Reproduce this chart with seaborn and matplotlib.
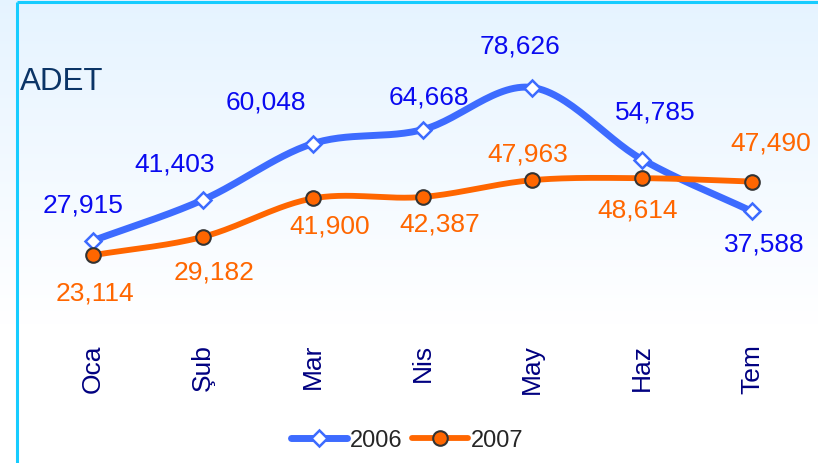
import numpy as np
import pandas as pd
import matplotlib
matplotlib.use("Agg")
import matplotlib.pyplot as plt
from matplotlib.lines import Line2D
import seaborn as sns

# ---- data ----
months = ["Oca", "Şub", "Mar", "Nis", "May", "Haz", "Tem"]
values_2006 = [27915, 41403, 60048, 64668, 78626, 54785, 37588]
values_2007 = [23114, 29182, 41900, 42387, 47963, 48614, 47490]
series_names = ["2006", "2007"]
unit_label = "ADET"

# label offsets (pixels, dx, dy up)
off_2006 = [(-10, 36), (-28, 36), (-47, 42), (6, 33), (-12, 42), (13, 48), (12, -32)]
off_2007 = [(2, -37), (11, -35), (17, -27), (17, -27), (-5, 27), (-5, -31), (19, 39)]

sns.set_theme(style="white")
plt.rcParams["font.family"] = ["Liberation Sans", "DejaVu Sans"]

W, H = 818, 464
fig = plt.figure(figsize=(W / 100, H / 100), dpi=100)

# background gradient
bg = fig.add_axes([0, 0, 1, 1], zorder=-10)
grad = np.linspace(0, 1, 256).reshape(-1, 1)
top = np.array([0.90, 0.955, 1.0])
bottom = np.array([1.0, 1.0, 1.0])
t = np.clip(grad / 0.7, 0, 1)
img = top[None, None, :] * (1 - t[..., None]) + bottom[None, None, :] * t[..., None]
bg.imshow(img, aspect="auto", extent=[0, 1, 0, 1], origin="upper")
bg.set_xlim(0, 1)
bg.set_ylim(0, 1)
bg.axis("off")
# frame lines (left and top)
bg.plot([16.5 / W, 16.5 / W], [0, 1 - 2.5 / H], color="#16ccff", lw=2.2, solid_capstyle="butt")
bg.plot([16.5 / W, 1], [1 - 2.5 / H, 1 - 2.5 / H], color="#16ccff", lw=2.2, solid_capstyle="butt")

ax = fig.add_axes([38 / W, (H - 326) / H, 769 / W, 302 / H])
ax.patch.set_alpha(0)


def catmull_rom(xs, ys, n=30):
    xs = np.asarray(xs, float)
    ys = np.asarray(ys, float)
    px = np.concatenate([[2 * xs[0] - xs[1]], xs, [2 * xs[-1] - xs[-2]]])
    py = np.concatenate([[2 * ys[0] - ys[1]], ys, [2 * ys[-1] - ys[-2]]])
    outx, outy = [], []
    for i in range(1, len(px) - 2):
        tt = np.linspace(0, 1, n, endpoint=False)
        for arr, out in ((px, outx), (py, outy)):
            p0, p1, p2, p3 = arr[i - 1], arr[i], arr[i + 1], arr[i + 2]
            out.extend(0.5 * ((2 * p1) + (-p0 + p2) * tt
                              + (2 * p0 - 5 * p1 + 4 * p2 - p3) * tt ** 2
                              + (-p0 + 3 * p1 - 3 * p2 + p3) * tt ** 3))
    outx.append(xs[-1])
    outy.append(ys[-1])
    return np.array(outx), np.array(outy)


x = np.arange(len(months))
blue = "#3d6bff"
orange = "#ff6600"

sx, sy = catmull_rom(x, values_2006)
df_a = pd.DataFrame({"x": sx, "y": sy})
sns.lineplot(data=df_a, x="x", y="y", sort=False, ax=ax, color=blue, lw=5.0, estimator=None, zorder=2)
sx, sy = catmull_rom(x, values_2007)
df_b = pd.DataFrame({"x": sx, "y": sy})
sns.lineplot(data=df_b, x="x", y="y", sort=False, ax=ax, color=orange, lw=4.2, estimator=None, zorder=2)

ax.plot(x, values_2006, ls="none", marker="D", ms=8.5, mfc="white", mec=blue, mew=1.8, zorder=4)
ax.plot(x, values_2007, ls="none", marker="o", ms=10.5, mfc=orange, mec="#333333", mew=1.5, zorder=4)

for xi, v, (dx, dy) in zip(x, values_2006, off_2006):
    ax.annotate(f"{v:,}", (xi, v), xytext=(dx * 0.72, dy * 0.72), textcoords="offset points",
                ha="center", va="center", fontsize=19, color="#0a0af0", zorder=5)
for xi, v, (dx, dy) in zip(x, values_2007, off_2007):
    ax.annotate(f"{v:,}", (xi, v), xytext=(dx * 0.72, dy * 0.72), textcoords="offset points",
                ha="center", va="center", fontsize=19, color=orange, zorder=5)

ax.set_xlim(-0.5, len(months) - 0.5)
ax.set_ylim(0, 100000)
ax.set_xticks(x)
ax.set_xticklabels(months, rotation=90, fontsize=19, color="#000080", va="top", ha="center")
ax.set_yticks([])
ax.tick_params(axis="x", length=0, pad=13)
ax.set_xlabel("")
ax.set_ylabel("")
for s in ax.spines.values():
    s.set_visible(False)

fig.text(20 / W, 1 - 82 / H, unit_label, fontsize=22.5, color="#0b3466", ha="left", va="center")

handles = [
    Line2D([], [], color=blue, lw=5, marker="D", ms=8.5, mfc="white", mec=blue, mew=1.8),
    Line2D([], [], color=orange, lw=4.2, marker="o", ms=10.5, mfc=orange, mec="#333333", mew=1.5),
]
fig.legend(handles, series_names, loc="center", bbox_to_anchor=(407 / W, 1 - 441 / H), ncol=2,
           frameon=False, fontsize=17, handlelength=2.4, handletextpad=0.1, columnspacing=0.4)

fig.savefig("out.png", dpi=100)
